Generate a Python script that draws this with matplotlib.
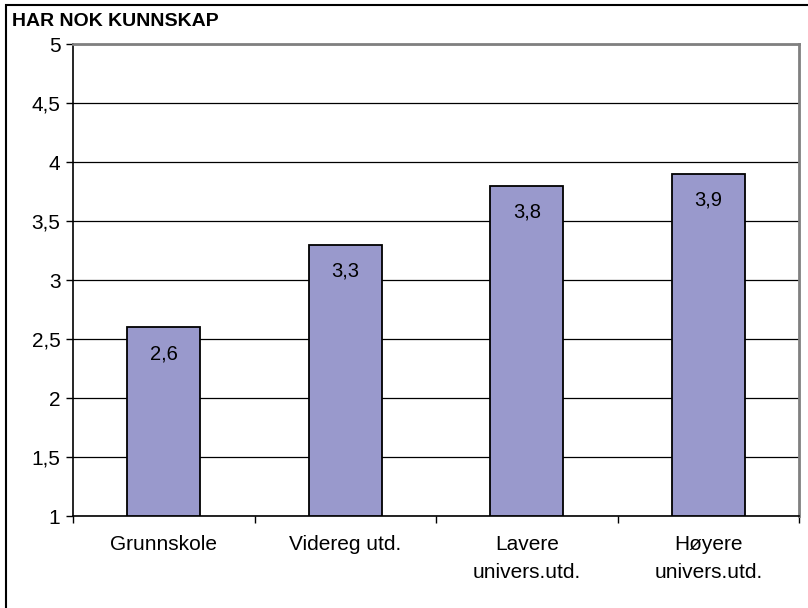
import matplotlib
matplotlib.use("Agg")
import matplotlib.pyplot as plt
from matplotlib.patches import Rectangle

categories = ["Grunnskole", "Videreg utd.", "Lavere\nunivers.utd.", "Høyere\nunivers.utd."]
values = [2.6, 3.3, 3.8, 3.9]
yticks = [1, 1.5, 2, 2.5, 3, 3.5, 4, 4.5, 5]
title = "HAR NOK KUNNSKAP"

plt.rcParams['font.family'] = ['Liberation Sans', 'DejaVu Sans']

fig = plt.figure(figsize=(8.08, 6.08), dpi=100)
ax = fig.add_axes([73/808, 1 - 516/608, (799 - 73)/808, (516 - 44)/608])

x = list(range(len(categories)))
ax.bar(x, [v - 1 for v in values], bottom=1, width=0.4, color='#9999CC',
       edgecolor='black', linewidth=1.3, zorder=3)
for xi, v in zip(x, values):
    ax.text(xi, v - 0.225, f"{v:.1f}".replace('.', ','), ha='center', va='center',
            fontsize=14.5, zorder=4)

ax.set_xlim(-0.5, 3.5)
ax.set_ylim(1, 5)
ax.set_yticks(yticks)
ax.set_yticklabels([("%g" % t).replace('.', ',') for t in yticks], fontsize=15)
ax.yaxis.grid(True, color='black', linewidth=0.9, zorder=0)
ax.set_axisbelow(True)

ax.set_xticks([-0.5, 0.5, 1.5, 2.5, 3.5])
ax.set_xticklabels([])
ax.set_xticks(x, minor=True)
ax.set_xticklabels(categories, minor=True, fontsize=15, va='top', linespacing=1.6)
ax.tick_params(axis='x', which='major', length=5, width=1, direction='out')
ax.tick_params(axis='x', which='minor', length=0, pad=14)
ax.tick_params(axis='y', length=5, width=1, direction='out', pad=4)

for s in ['left', 'bottom']:
    ax.spines[s].set_color('black')
    ax.spines[s].set_linewidth(1.2)
for s in ['top', 'right']:
    ax.spines[s].set_color('#808080')
    ax.spines[s].set_linewidth(2)

fig.text(12/808, 1 - 22/608, title, fontsize=14, fontweight='bold', ha='left', va='center')

fig.patches.append(Rectangle((6/808, -0.1), 1.2, 1 - 5/608 + 0.1, transform=fig.transFigure,
                             fill=False, edgecolor='black', linewidth=1.5))

fig.savefig("out.png", dpi=100, facecolor='white')
